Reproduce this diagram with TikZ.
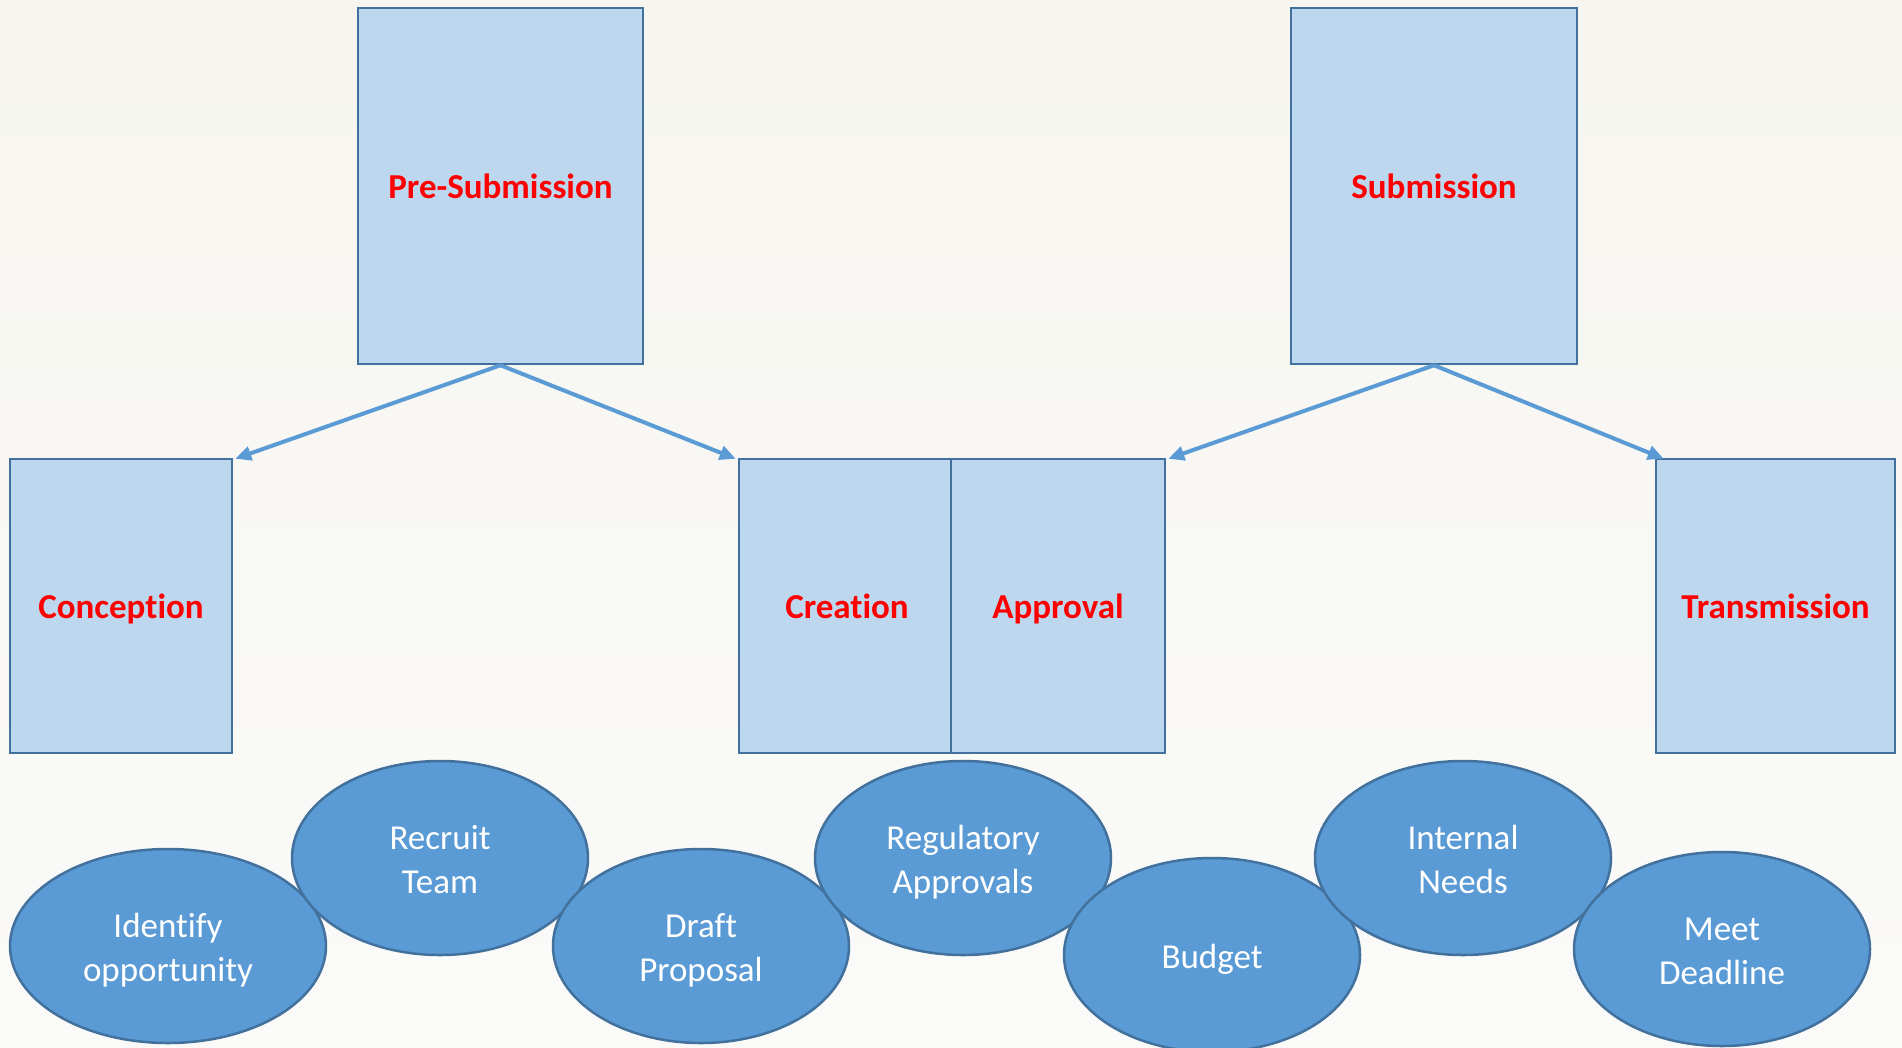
\documentclass[tikz,border=0pt]{standalone}
\usepackage{fontspec}
\setmainfont{Carlito}[Ligatures=NoCommon]
\usetikzlibrary{arrows.meta,shapes.geometric}
\definecolor{boxfill}{HTML}{BDD7EE}
\definecolor{boxline}{HTML}{41719C}
\definecolor{ellfill}{HTML}{5B9BD5}
\definecolor{arrowcol}{HTML}{5B9BD5}
\definecolor{labelred}{HTML}{FF0000}
\definecolor{bgtop}{HTML}{F6F5EF}
\definecolor{bgbot}{HTML}{FAFAF9}
\newcommand\topstrut{\rule[-13.2pt]{0pt}{54pt}}
\tikzset{
  phasebox/.style={draw=boxline, fill=boxfill, line width=2.5pt, rectangle, inner sep=0pt,
    text height=32pt, text depth=8pt,
    font=\fontsize{35}{42}\selectfont\bfseries, text=labelred},
  taskell/.style={draw=boxline, fill=ellfill, line width=2.5pt, ellipse, inner sep=0pt,
    minimum width=296pt, minimum height=194pt, text=white, align=center,
    font=\fontsize{35}{44}\selectfont},
  flow/.style={draw=arrowcol, line width=4pt, -{Triangle[length=16pt,width=14pt]}}
}
\begin{document}
\begin{tikzpicture}[x=1pt,y=-1pt]
\useasboundingbox (0,0) rectangle (1902,1047);
\clip (0,0) rectangle (1902,1047);
\shade[top color=bgtop, bottom color=bgbot] (0,0) rectangle (1902,1047);

% top boxes
\node[phasebox, minimum width=285pt, minimum height=356pt] (pre) at (500.5,186) {Pre-Submission};
\node[phasebox, minimum width=286pt, minimum height=356pt] (sub) at (1434,186) {Submission};

% second row
\node[phasebox, minimum width=222pt, minimum height=294pt] (conc) at (121,606) {Conception};
\node[phasebox, minimum width=216pt, minimum height=294pt] (crea) at (847,606) {Creation};
\node[phasebox, minimum width=214pt, minimum height=294pt] (appr) at (1058,606) {Approval};
\node[phasebox, minimum width=239pt, minimum height=294pt] (trans) at (1775.5,606) {Transmission};

% arrows
\draw[flow] (pre.south) -- ([xshift=2pt,yshift=-1pt]conc.north east);
\draw[flow] (pre.south) -- ([xshift=-2pt,yshift=-1pt]crea.north west);
\draw[flow] (sub.south) -- ([xshift=2pt,yshift=-1pt]appr.north east);
\draw[flow] (sub.south) -- ([xshift=9pt,yshift=-1pt]trans.north west);

% ellipses
\node[taskell, minimum width=316pt] (ident) at (168,946) {Identify\topstrut\\opportunity\strut};
\node[taskell] (recr) at (440,858) {Recruit\topstrut\\Team\strut};
\node[taskell] (draft) at (701,946) {Draft\topstrut\\Proposal\strut};
\node[taskell] (regu) at (963,858) {Regulatory\topstrut\\Approvals\strut};
\node[taskell] (budg) at (1212,955) {Budget\topstrut};
\node[taskell] (intn) at (1463,858) {Internal\topstrut\\Needs\strut};
\node[taskell] (meet) at (1722,949) {Meet\topstrut\\Deadline\strut};
\end{tikzpicture}
\end{document}
